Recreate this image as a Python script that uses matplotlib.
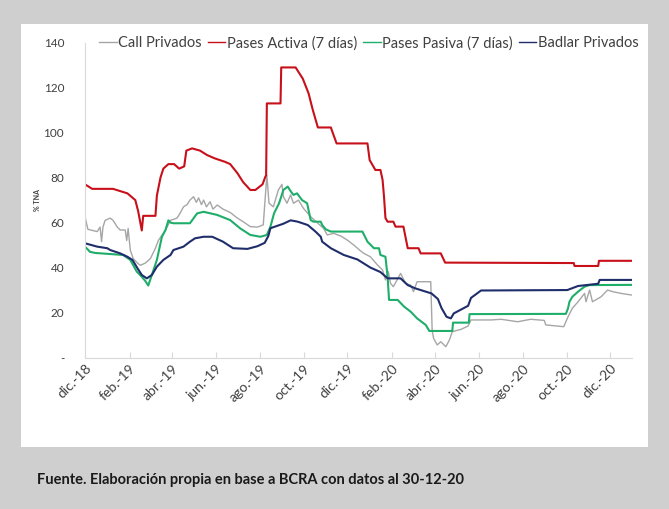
import matplotlib
matplotlib.use("Agg")
import matplotlib.pyplot as plt
import matplotlib.dates as mdates
from matplotlib.patches import Rectangle
import pandas as pd

plt.rcParams['font.family'] = ['Lato', 'DejaVu Sans']

inicio = pd.Timestamp('2018-12-01')

# Pases Activa (7 dias): dias desde 1-dic-18 y % TNA
dias_activa = [0, 10, 39, 59, 70, 74, 79, 81, 98, 100, 105, 109, 116, 124, 131, 138, 141, 149,
               160, 170, 181, 195, 202, 212, 220, 230, 237, 247, 251, 252, 253, 272, 273, 293,
               303, 311, 317, 321, 324, 342, 350, 393, 396, 404, 411, 414, 416, 418, 421, 429,
               432, 443, 449, 464, 467, 495, 501, 680, 681, 714, 715, 761]
activa = [77, 75, 75, 73, 70, 65, 56.5, 63, 63, 72, 80, 84, 86, 86, 84, 85, 92, 93,
          92, 90, 88.5, 87, 86, 82, 78, 74.5, 74.5, 77, 80.5, 81, 113, 113, 129, 129,
          124, 117.5, 110, 105.6, 102.3, 102.3, 95.2, 95.2, 87.8, 83.4, 83.4, 79, 71.5, 62, 60.4, 60.4,
          58.2, 58.2, 48.6, 48.6, 46.3, 46.3, 42.2, 42, 40.7, 40.7, 43, 43]

# Pases Pasiva (7 dias)
dias_pasiva = [0, 7, 14, 53, 63, 72, 79, 84, 88, 93, 100, 107, 112, 116, 119, 123, 146, 156,
               165, 184, 202, 216, 230, 244, 253, 258, 263, 270, 276, 282, 286, 290, 295, 302,
               309, 314, 318, 328, 330, 335, 342, 386, 393, 402, 409, 411, 418, 421, 423, 435,
               444, 453, 462, 474, 479, 511, 512, 534, 535, 669, 672, 674, 678, 686, 695, 702, 762]
pasiva = [49.3, 47, 46.5, 45.6, 43.4, 38.2, 35.9, 34, 32, 36.7, 43.4, 53.7, 56.7, 61, 60, 59.7, 59.7, 64.1,
          64.8, 63.4, 61.1, 57.4, 54.5, 53.7, 54.5, 58.2, 64.1, 68.6, 74.5, 76, 74, 72.3, 73, 70,
          68.6, 61.1, 60.4, 60.4, 58.9, 57, 56, 56, 51.5, 48.6, 48.6, 45.6, 44.8, 35.9, 25.6, 25.6,
          22.6, 20.4, 17.4, 14.5, 11.8, 11.8, 15.5, 15.5, 19.3, 19.4, 21.9, 24.8, 27, 29.3, 31.5, 32.2, 32.3]

# Badlar Privados
dias_badlar = [0, 17, 31, 35, 49, 59, 66, 73, 79, 86, 93, 100, 109, 119, 123, 137, 146, 153,
               165, 177, 192, 206, 226, 240, 250, 255, 258, 276, 286, 296, 310, 321, 328, 330,
               342, 360, 379, 397, 411, 421, 439, 449, 459, 482, 491, 496, 503, 509, 513, 533,
               537, 551, 671, 686, 714, 716, 762]
badlar = [50.8, 49.3, 48.6, 47.8, 46.3, 44.8, 43.4, 39.7, 36.7, 35.2, 36.7, 40.4, 43.4, 45.6, 47.8, 49.3, 51.5, 53,
          53.7, 53.7, 51.5, 48.6, 48.3, 49.5, 51, 54, 57.5, 59.5, 61, 60.4, 58.9, 55.9, 53.7, 51.5,
          48.6, 45.6, 43.6, 40, 38, 35.2, 35.2, 32.2, 30.8, 28.5, 26, 22, 18.1, 17.4, 19.6, 23,
          26.5, 29.8, 30, 31.8, 32.8, 34.5, 34.5]

# Call Privados
dias_call = [0, 4, 17, 21, 23, 25, 28, 35, 39, 45, 49, 56, 58, 60, 63, 67, 73, 77, 84, 91,
             98, 102, 112, 119, 128, 132, 137, 142, 146, 151, 155, 158, 162, 165, 169, 174, 178, 184,
             192, 202, 212, 220, 230, 240, 248, 253, 256, 262, 269, 274, 276, 281, 286, 290, 297,
             304, 314, 324, 332, 337, 346, 356, 365, 374, 383, 388, 397, 407, 414, 418, 422, 425,
             429, 435, 439, 446, 453, 457, 462, 481, 483, 485, 490, 495, 502, 507, 511, 523, 533,
             537, 565, 579, 602, 620, 639, 641, 666, 672, 678, 686, 695, 697, 702, 706, 718, 727,
             734, 746, 760]
call = [62.6, 57, 56, 58, 51.5, 58, 61, 62, 61, 58, 56.7, 56.7, 52, 57.4, 47.8, 44, 42, 41, 42, 44,
        48.6, 52, 56.7, 61, 62, 64, 67, 68, 70, 71.5, 69, 71, 68, 70, 67, 69.3, 66, 67.8,
        66, 64.5, 62, 60.4, 58.2, 58, 59, 81, 68.6, 67, 74.5, 77, 71.5, 68.6, 72.3, 68.6, 70,
        66.3, 62.6, 59.7, 57.4, 54.5, 55.2, 54, 52.2, 50, 47.5, 46.3, 44.8, 41.1, 38.9, 34.5, 38.2, 33,
        31.5, 35, 37.4, 33, 32.2, 29.3, 33.7, 33.7, 12, 8.5, 5.6, 7, 4.8, 7.8, 11.5, 12.5, 14,
        16.7, 16.7, 17, 15.9, 17, 16.5, 14.5, 13.7, 18.1, 21.9, 24.8, 28.5, 24.8, 30, 24.8, 27, 30,
        29.3, 28.5, 27.8]

ticks_y = [0, 20, 40, 60, 80, 100, 120, 140]
etiquetas_y = ['-', '20', '40', '60', '80', '100', '120', '140']
meses = ['ene.', 'feb.', 'mar.', 'abr.', 'may.', 'jun.', 'jul.', 'ago.', 'sep.', 'oct.', 'nov.', 'dic.']


def fechas(dias):
    return inicio + pd.to_timedelta(dias, unit='D')


fig = plt.figure(figsize=(6.69, 5.09), dpi=100, facecolor='#d0cfcf')
fig.patches.append(Rectangle((21 / 669, 1 - 447 / 509), 627 / 669, 423 / 509,
                             transform=fig.transFigure, facecolor='white', edgecolor='none', zorder=-10))

ax = fig.add_axes([85 / 669, 1 - 357.5 / 509, 547 / 669, 314.8 / 509])
ax.set_facecolor('none')

ax.plot(fechas(dias_call), call, color='#a6a6a6', lw=1.0, label='Call Privados')
ax.plot(fechas(dias_activa), activa, color='#c8101a', lw=1.5, label='Pases Activa (7 días)')
ax.plot(fechas(dias_pasiva), pasiva, color='#1fae6a', lw=1.5, label='Pases Pasiva (7 días)')
ax.plot(fechas(dias_badlar), badlar, color='#1f2d6b', lw=1.5, label='Badlar Privados')

ax.set_ylim(0, 140)
ax.set_xlim(inicio, pd.Timestamp('2020-12-31'))
ax.set_yticks(ticks_y)
ax.set_yticklabels(etiquetas_y)

ax.xaxis.set_major_locator(mdates.MonthLocator(bymonth=[2, 4, 6, 8, 10, 12]))
ax.xaxis.set_major_formatter(plt.FuncFormatter(
    lambda v, p: meses[mdates.num2date(v).month - 1] + '-' + mdates.num2date(v).strftime('%y')))
plt.setp(ax.get_xticklabels(), rotation=45, ha='right', rotation_mode='anchor')

for s in ['top', 'right']:
    ax.spines[s].set_visible(False)
for s in ['left', 'bottom']:
    ax.spines[s].set_color('#d9d9d9')
ax.tick_params(axis='x', colors='#d9d9d9', labelcolor='#404040', labelsize=10, length=4, direction='in')
ax.tick_params(axis='y', colors='#d9d9d9', labelcolor='#404040', labelsize=8.5, length=0, pad=15)

ax.set_ylabel('% TNA', fontsize=5, fontweight='bold', color='#404040')
ax.yaxis.set_label_coords((41 - 85) / 547, 0.5)

ax.legend(loc='upper left', bbox_to_anchor=(0.015, 1.04), ncol=4, frameon=False, fontsize=10.5,
          handlelength=1.2, handletextpad=0.12, columnspacing=0.4, borderaxespad=0,
          labelcolor='#404040')
for h in ax.get_legend().get_lines():
    h.set_linewidth(1.0)

fig.text(37 / 669, 1 - 480 / 509, 'Fuente. Elaboración propia en base a BCRA con datos al 30-12-20',
         fontsize=10.5, fontweight='bold', color='#1a1a1a', va='center', ha='left')

fig.savefig('out.png', dpi=100, facecolor=fig.get_facecolor())
